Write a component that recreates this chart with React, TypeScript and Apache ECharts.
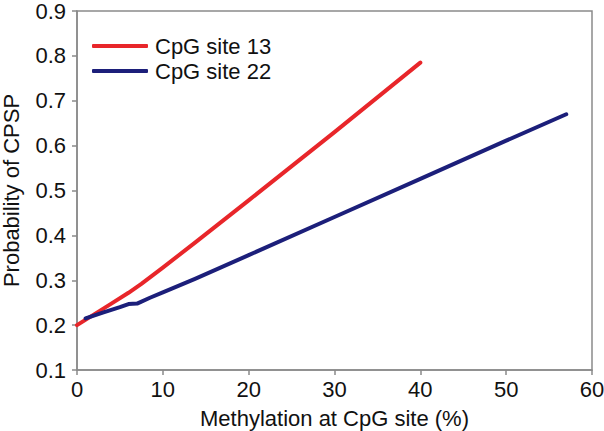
import React, { useEffect, useRef } from "react";
import * as echarts from "echarts";

const site13X = [0, 2, 4, 6, 7.5, 10, 13.75, 20, 30, 40];
const site13Y = [0.2, 0.224, 0.248, 0.272, 0.292, 0.328, 0.384, 0.478, 0.63, 0.785];
const site22X = [1, 3, 5, 6, 7, 8.5, 10, 13.75, 20, 30, 40, 50, 57];
const site22Y = [0.215, 0.228, 0.24, 0.247, 0.248, 0.261, 0.273, 0.303, 0.356, 0.441, 0.526, 0.611, 0.67];
const seriesNames = ["CpG site 13", "CpG site 22"];

export default function App() {
  const ref = useRef<HTMLDivElement>(null);
  useEffect(() => {
    if (!ref.current) return;
    const chart = echarts.init(ref.current, null, { renderer: "svg" });
    const font = "Liberation Sans, Arial, sans-serif";
    const axisColor = "#8a8a8a";
    const red = "#e8262a";
    const blue = "#1c1f7a";
    chart.setOption({
      animation: false,
      backgroundColor: "#ffffff",
      grid: {
        left: 77,
        right: 12,
        top: 11,
        bottom: 61,
        show: true,
        borderColor: axisColor,
        borderWidth: 1.5,
        containLabel: false,
        outerBoundsMode: "none",
      },
      legend: {
        orient: "vertical",
        left: 87,
        top: 30,
        icon: "roundRect",
        itemWidth: 56,
        itemHeight: 4,
        itemGap: 3,
        textStyle: { fontFamily: font, fontSize: 22, color: "#111", padding: [0, 0, 0, 2] },
        data: [
          { name: seriesNames[0], itemStyle: { color: red } },
          { name: seriesNames[1], itemStyle: { color: blue } },
        ],
      },
      xAxis: {
        type: "value",
        min: 0,
        max: 60,
        interval: 10,
        name: "Methylation at CpG site (%)",
        nameLocation: "middle",
        nameGap: 37,
        nameTextStyle: { fontFamily: font, fontSize: 22, color: "#111" },
        axisLine: { show: true, lineStyle: { color: axisColor, width: 1.5 } },
        axisTick: { show: true, inside: false, length: 5, lineStyle: { color: axisColor, width: 1.5 } },
        axisLabel: { fontFamily: font, fontSize: 22, color: "#111", margin: 8 },
        splitLine: { show: false },
      },
      yAxis: {
        type: "value",
        min: 0.1,
        max: 0.9,
        interval: 0.1,
        name: "Probability of CPSP",
        nameLocation: "middle",
        nameGap: 55,
        nameTextStyle: { fontFamily: font, fontSize: 22, color: "#111" },
        axisLine: { show: true, lineStyle: { color: axisColor, width: 1.5 } },
        axisTick: { show: true, inside: false, length: 5, lineStyle: { color: axisColor, width: 1.5 } },
        axisLabel: {
          fontFamily: font,
          fontSize: 22,
          color: "#111",
          margin: 11,
          formatter: (v: number) => v.toFixed(1),
        },
        splitLine: { show: false },
      },
      series: [
        {
          name: seriesNames[0],
          type: "line",
          data: site13X.map((x, i) => [x, site13Y[i]]),
          showSymbol: false,
          symbol: "none",
          lineStyle: { color: red, width: 4, cap: "round", join: "round" },
          itemStyle: { color: red },
        },
        {
          name: seriesNames[1],
          type: "line",
          data: site22X.map((x, i) => [x, site22Y[i]]),
          showSymbol: false,
          symbol: "none",
          lineStyle: { color: blue, width: 4, cap: "round", join: "round" },
          itemStyle: { color: blue },
        },
      ],
    });
    return () => chart.dispose();
  }, []);
  return (
    <div
      ref={ref}
      style={{ position: "fixed", left: 0, top: 0, width: 604, height: 431, background: "#fff" }}
    />
  );
}
